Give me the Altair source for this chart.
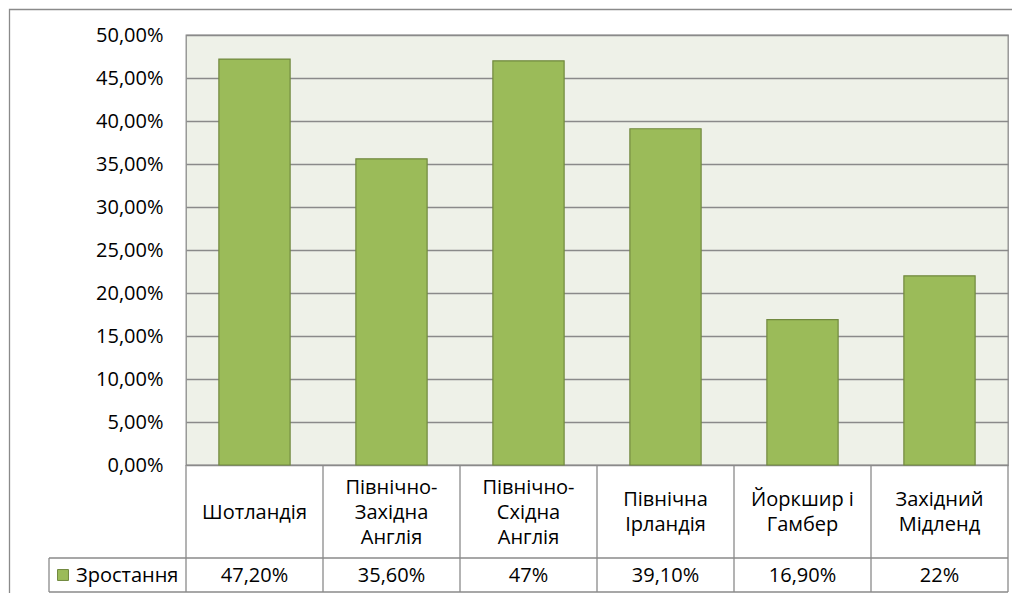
import altair as alt
import pandas as pd

categories = ["Шотландія", "Північно-\nЗахідна\nАнглія", "Північно-\nСхідна\nАнглія",
              "Північна\nІрландія", "Йоркшир і\nГамбер", "Західний\nМідленд"]
values = [0.472, 0.356, 0.47, 0.391, 0.169, 0.22]
value_labels = ["47,20%", "35,60%", "47%", "39,10%", "16,90%", "22%"]
series_name = "Зростання"
y_ticks = [0, 0.05, 0.10, 0.15, 0.20, 0.25, 0.30, 0.35, 0.40, 0.45, 0.50]

FONT = "Open Sans"
FS = 20
W, H = 822, 430
HEADER_BOTTOM = 523
ROW_BOTTOM = 557
LEGEND_LEFT = -137
LINE = "#8a8a8a"
LH = 25

df = pd.DataFrame({"cat": categories, "val": values, "lab": value_labels})
last_df = pd.DataFrame({"cat": [categories[-1]]})

# one row per text line of the category header cells
rows = []
center = (H + HEADER_BOTTOM) / 2 + 1
for c in categories:
    parts = c.split("\n")
    n = len(parts)
    for i, p in enumerate(parts):
        rows.append({"cat": c, "line": p, "py": center + (i - (n - 1) / 2) * LH})
lines_df = pd.DataFrame(rows)

xs = alt.Scale(domain=categories, paddingInner=0, paddingOuter=0)
ys = alt.Scale(domain=[0, 0.5])

bars = alt.Chart(df).mark_bar(
    width=alt.RelativeBandSize(0.52), color="#9BBB59", stroke="#71893F", strokeWidth=1.2
).encode(
    x=alt.X("cat:N", scale=xs, sort=categories, axis=None),
    y=alt.Y("val:Q", scale=ys, title=None,
            axis=alt.Axis(values=y_ticks, labelExpr="replace(format(datum.value, '.2%'), '.', ',')",
                          domain=False, ticks=False, grid=True, gridColor=LINE, gridWidth=1.3,
                          labelFontSize=FS, labelFont=FONT, labelColor="#000000", labelPadding=23)),
)

cat_text = alt.Chart(lines_df).mark_text(
    font=FONT, fontSize=FS, color="#000000", align="center", baseline="middle"
).encode(
    x=alt.X("cat:N", scale=xs, sort=categories, bandPosition=0.5),
    y=alt.Y("py:Q", scale=None),
    text="line:N",
)

val_text = alt.Chart(df).mark_text(
    font=FONT, fontSize=FS, color="#000000", align="center", baseline="middle"
).encode(
    x=alt.X("cat:N", scale=xs, sort=categories, bandPosition=0.5),
    y=alt.value((HEADER_BOTTOM + ROW_BOTTOM) / 2 + 1),
    text="lab:N",
)

vlines = alt.Chart(df).mark_rule(color=LINE, strokeWidth=1.3).encode(
    x=alt.X("cat:N", scale=xs, sort=categories, bandPosition=0),
    y=alt.value(H), y2=alt.value(ROW_BOTTOM),
)
vline_last = alt.Chart(last_df).mark_rule(color=LINE, strokeWidth=1.3).encode(
    x=alt.X("cat:N", scale=xs, sort=categories, bandPosition=1),
    y=alt.value(H), y2=alt.value(ROW_BOTTOM),
)

hline_a = alt.Chart(last_df).mark_rule(color=LINE, strokeWidth=1.3).encode(
    x=alt.value(LEGEND_LEFT), x2=alt.value(W), y=alt.value(HEADER_BOTTOM))
hline_b = alt.Chart(last_df).mark_rule(color=LINE, strokeWidth=1.3).encode(
    x=alt.value(LEGEND_LEFT), x2=alt.value(W), y=alt.value(ROW_BOTTOM))
vline_leg = alt.Chart(last_df).mark_rule(color=LINE, strokeWidth=1.3).encode(
    x=alt.value(LEGEND_LEFT), y=alt.value(HEADER_BOTTOM), y2=alt.value(ROW_BOTTOM))

leg_df = pd.DataFrame({"name": [series_name]})
leg_sym = alt.Chart(leg_df).mark_square(
    size=120, color="#9BBB59", stroke="#71893F", strokeWidth=1, opacity=1
).encode(x=alt.value(LEGEND_LEFT + 14), y=alt.value((HEADER_BOTTOM + ROW_BOTTOM) / 2))
leg_txt = alt.Chart(leg_df).mark_text(
    font=FONT, fontSize=FS, color="#000000", align="left", baseline="middle"
).encode(x=alt.value(LEGEND_LEFT + 27), y=alt.value((HEADER_BOTTOM + ROW_BOTTOM) / 2 + 1), text="name:N")

outer = alt.Chart(leg_df).mark_rect(fill=None, stroke=LINE, strokeWidth=1.3).encode(
    x=alt.value(-176.5), x2=alt.value(900), y=alt.value(-25.5), y2=alt.value(700))

chart = alt.layer(
    outer, bars, cat_text, val_text, vlines, vline_last, hline_a, hline_b, vline_leg, leg_sym, leg_txt
).properties(
    width=W, height=H,
    autosize=alt.AutoSizeParams(type="none"),
    padding={"left": 178, "top": 27, "right": 4, "bottom": 128},
    background="#ffffff",
).configure_view(
    fill="#EEF1E8", stroke=LINE, strokeWidth=1.3
)

chart.save("out.html", embed_options={"renderer": "svg", "actions": False})
